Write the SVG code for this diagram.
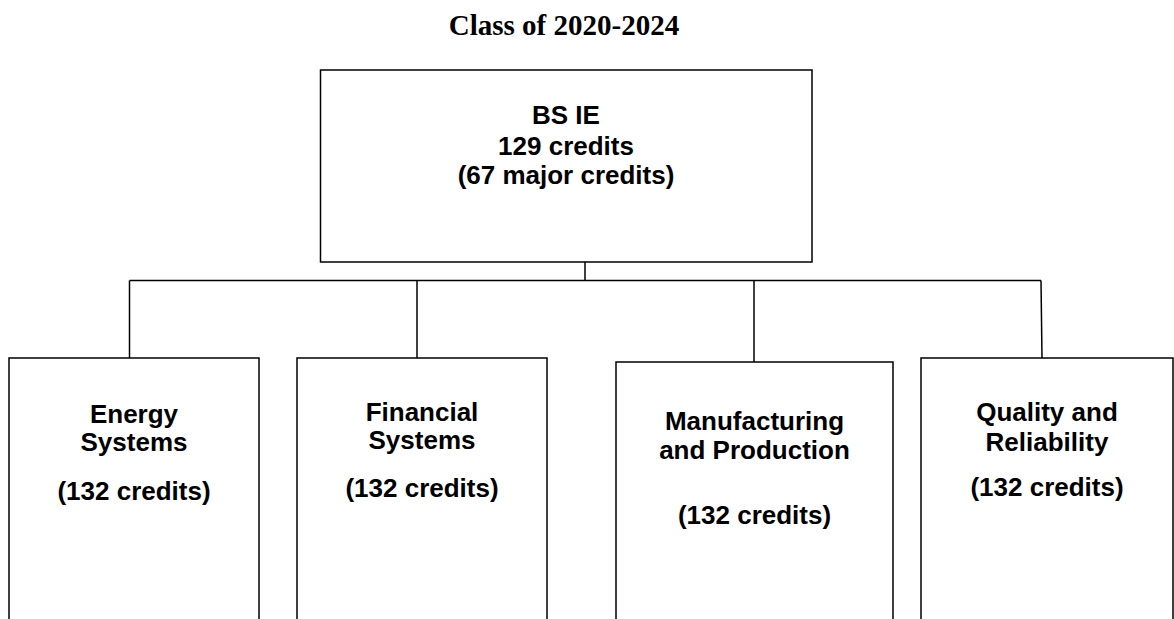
<svg xmlns="http://www.w3.org/2000/svg" width="1174" height="619" viewBox="0 0 1174 619">
<style>
.box{fill:#fff;stroke:#000;stroke-width:1.5}
.ln{fill:none;stroke:#000;stroke-width:1.5}
.t{font-family:"Liberation Sans",Arial,sans-serif;font-weight:bold;font-size:26px;text-anchor:middle;fill:#000}
.title{font-family:"Liberation Serif","Times New Roman",serif;font-weight:bold;font-size:29px;text-anchor:middle;fill:#000}
</style>
<rect width="1174" height="619" fill="#fff"/>
<text class="title" x="564" y="35">Class of 2020-2024</text>
<g id="connectors">
<path class="ln" d="M585,262 V280.5"/>
<path class="ln" d="M129.5,280.5 H1041"/>
<path class="ln" d="M129.5,280.5 V358"/>
<path class="ln" d="M417,280.5 V358"/>
<path class="ln" d="M754,280.5 V362"/>
<path class="ln" d="M1041,280.5 L1042,358"/>
</g>
<g id="bsie">
<rect class="box" x="320.5" y="70" width="491.5" height="192"/>
<text class="t" x="566" y="124">BS IE</text>
<text class="t" x="566" y="155">129 credits</text>
<text class="t" x="566" y="184">(67 major credits)</text>
</g>
<g id="energy">
<rect class="box" x="9" y="358" width="250" height="280"/>
<text class="t" x="134" y="423">Energy</text>
<text class="t" x="134" y="451">Systems</text>
<text class="t" x="134" y="500">(132 credits)</text>
</g>
<g id="financial">
<rect class="box" x="297" y="358" width="250" height="280"/>
<text class="t" x="422" y="421">Financial</text>
<text class="t" x="422" y="449">Systems</text>
<text class="t" x="422" y="497">(132 credits)</text>
</g>
<g id="manufacturing">
<rect class="box" x="616" y="362" width="277" height="280"/>
<text class="t" x="754.5" y="430">Manufacturing</text>
<text class="t" x="754.5" y="459">and Production</text>
<text class="t" x="754.5" y="524">(132 credits)</text>
</g>
<g id="quality">
<rect class="box" x="921" y="358" width="252" height="280"/>
<text class="t" x="1047" y="421">Quality and</text>
<text class="t" x="1047" y="451">Reliability</text>
<text class="t" x="1047" y="496">(132 credits)</text>
</g>
</svg>
